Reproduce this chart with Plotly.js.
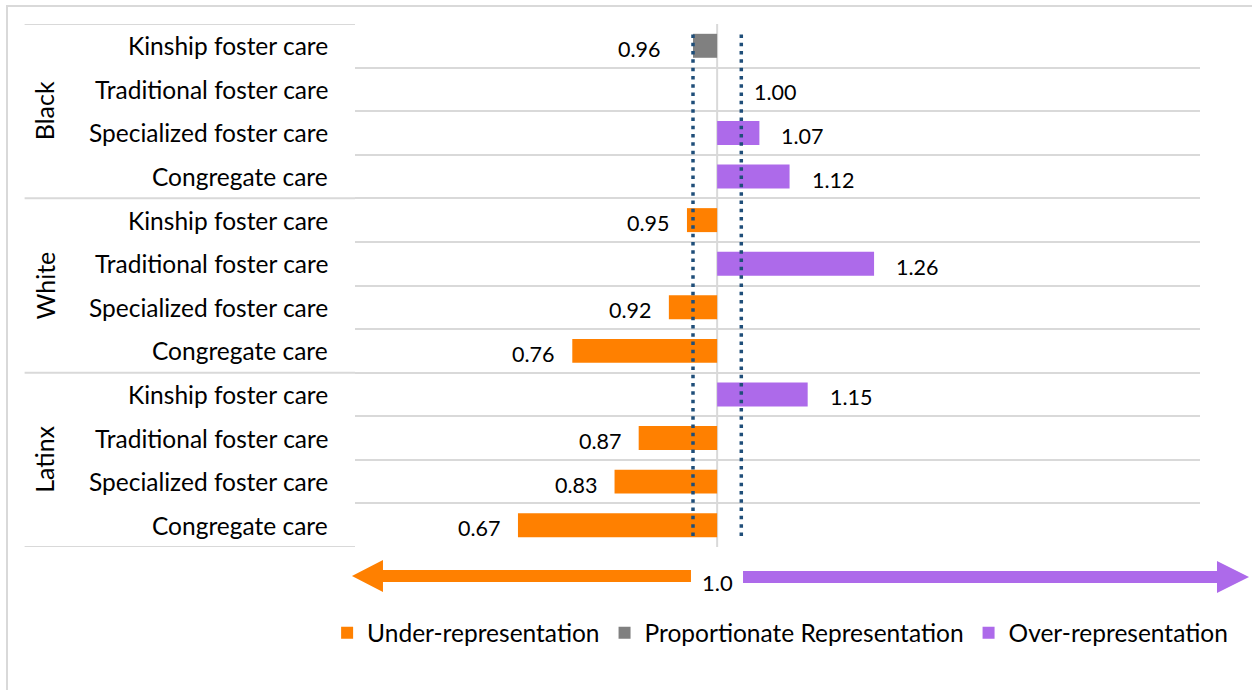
<!DOCTYPE html>
<html>
<head>
<meta charset="utf-8">
<script src="https://cdn.plot.ly/plotly-3.0.1.min.js"></script>
<style>
html,body{margin:0;padding:0;background:#fff;}
#chart{width:1252px;height:690px;}
</style>
</head>
<body>
<div id="chart"></div>
<script>
// ---- data ----
const groups = ["Black", "White", "Latinx"];
const placementTypes = ["Kinship foster care", "Traditional foster care", "Specialized foster care", "Congregate care"];
const blackValues  = [0.96, 1.00, 1.07, 1.12];
const whiteValues  = [0.95, 1.26, 0.92, 0.76];
const latinxValues = [1.15, 0.87, 0.83, 0.67];
const seriesNames = ["Under-representation", "Proportionate Representation", "Over-representation"];
const lowerBound = 0.96;   // proportionate band
const upperBound = 1.04;
const arrowLabel = "1.0";

// ---- styles ----
const FONT = "Lato, 'Open Sans', sans-serif";
const colors = ["#FF8000", "#808080", "#AD6AEA"];
const gridColor = "#D9D9D9";

const allValues = [blackValues, whiteValues, latinxValues];
const rowIdx = [], rowVals = [], rowGroup = [], rowCat = [];
allValues.forEach((arr, g) => arr.forEach((v, i) => {
  rowIdx.push(g * placementTypes.length + i);
  rowVals.push(v);
  rowGroup.push(groups[g]);
  rowCat.push(placementTypes[i]);
}));
const nRows = rowIdx.length;

function cls(v) { return v < lowerBound ? 0 : (v > upperBound ? 2 : 1); }

const traces = seriesNames.map((name, k) => ({
  type: "bar",
  orientation: "h",
  name: name,
  base: 1,
  y: rowIdx,
  x: rowVals.map(v => cls(v) === k ? v - 1 : null),
  width: 0.55,
  marker: { color: colors[k], line: { width: 0 } },
  hoverinfo: "skip",
  showlegend: true
}));

const annotations = [];
// data labels
rowVals.forEach((v, i) => {
  const prop = cls(v) === 1;
  const right = v >= 1;
  const gap = prop ? 31 : 16;
  annotations.push({
    x: v, y: rowIdx[i], xref: "x", yref: "y",
    text: v.toFixed(2), showarrow: false,
    xanchor: right ? "left" : "right", yanchor: "middle",
    xshift: right ? gap + 4 : -gap, yshift: -3,
    font: { family: FONT, size: 21.5, color: "#000" }
  });
});
// category labels
rowCat.forEach((c, i) => {
  annotations.push({
    x: -0.03, y: rowIdx[i], xref: "paper", yref: "y",
    text: c, showarrow: false, xanchor: "right", yanchor: "middle",
    font: { family: FONT, size: 24.5, color: "#000" }
  });
});
// group labels
groups.forEach((g, k) => {
  annotations.push({
    x: -0.368, y: k * placementTypes.length + (placementTypes.length - 1) / 2,
    xref: "paper", yref: "y", text: g, showarrow: false, textangle: -90,
    xanchor: "center", yanchor: "middle",
    font: { family: FONT, size: 25, color: "#000" }
  });
});
// arrow label
annotations.push({
  x: 1.0, y: -0.067, xref: "x", yref: "paper", text: arrowLabel, showarrow: false,
  xanchor: "center", yanchor: "middle",
  font: { family: FONT, size: 22, color: "#000" }
});

const shapes = [];
// group separators in label area
for (let k = 0; k <= groups.length; k++) {
  const yb = k * placementTypes.length - 0.5;
  shapes.push({ type: "line", xref: "paper", yref: "y", x0: -0.391, x1: 0, y0: yb, y1: yb,
    line: { color: gridColor, width: 2 }, layer: "below" });
}
// axis line at 1.0
shapes.push({ type: "line", xref: "x", yref: "y", x0: 1, x1: 1, y0: -0.5, y1: nRows - 0.5,
  line: { color: gridColor, width: 2 }, layer: "below" });
// dotted band lines
[lowerBound, upperBound].forEach(b => {
  shapes.push({ type: "line", xref: "x", yref: "y", x0: b, x1: b, y0: -0.26, y1: nRows - 0.65,
    line: { color: "#1F4E79", width: 3.5, dash: "3.5px,4.8px" }, layer: "above" });
});
// arrows (paper coordinates)
function px(x) { return (x - 355) / 845; }
function py(y) { return (547 - y) / 523; }
function pathFrom(pts) {
  return "M" + pts.map(p => px(p[0]).toFixed(4) + "," + py(p[1]).toFixed(4)).join(" L") + " Z";
}
shapes.push({ type: "path", xref: "paper", yref: "paper",
  path: pathFrom([[352,576],[383,560],[383,570],[691,570],[691,582],[383,582],[383,592]]),
  fillcolor: colors[0], line: { width: 0 } });
shapes.push({ type: "path", xref: "paper", yref: "paper",
  path: pathFrom([[1249,577],[1217,561],[1217,571],[743,571],[743,583],[1217,583],[1217,593]]),
  fillcolor: colors[2], line: { width: 0 } });
// chart border
shapes.push({ type: "rect", xref: "paper", yref: "paper",
  x0: px(7), x1: px(1262), y0: py(6), y1: py(700),
  line: { color: gridColor, width: 2 }, fillcolor: "rgba(0,0,0,0)", layer: "below" });

const layout = {
  width: 1252, height: 690,
  margin: { l: 355, r: 52, t: 24, b: 143 },
  paper_bgcolor: "#fff", plot_bgcolor: "#fff",
  barmode: "overlay",
  showlegend: true,
  legend: {
    orientation: "h", x: -0.033, xanchor: "left", y: -0.164, yanchor: "middle",
    font: { family: FONT, size: 24.5, color: "#000" }, traceorder: "normal",
    bgcolor: "rgba(0,0,0,0)", itemwidth: 30
  },
  xaxis: { range: [0.4, 1.8], showgrid: false, zeroline: false, showticklabels: false,
    showline: false, ticks: "", fixedrange: true },
  yaxis: { range: [nRows - 0.5, -0.5], showgrid: true, gridcolor: gridColor, gridwidth: 2,
    tickvals: Array.from({ length: nRows + 1 }, (_, i) => i - 0.5),
    ticktext: Array.from({ length: nRows + 1 }, () => ""),
    zeroline: false, showline: false, ticks: "", fixedrange: true },
  shapes: shapes,
  annotations: annotations,
  font: { family: FONT }
};

Plotly.newPlot("chart", traces, layout, { displayModeBar: false, staticPlot: true });
</script>
</body>
</html>
